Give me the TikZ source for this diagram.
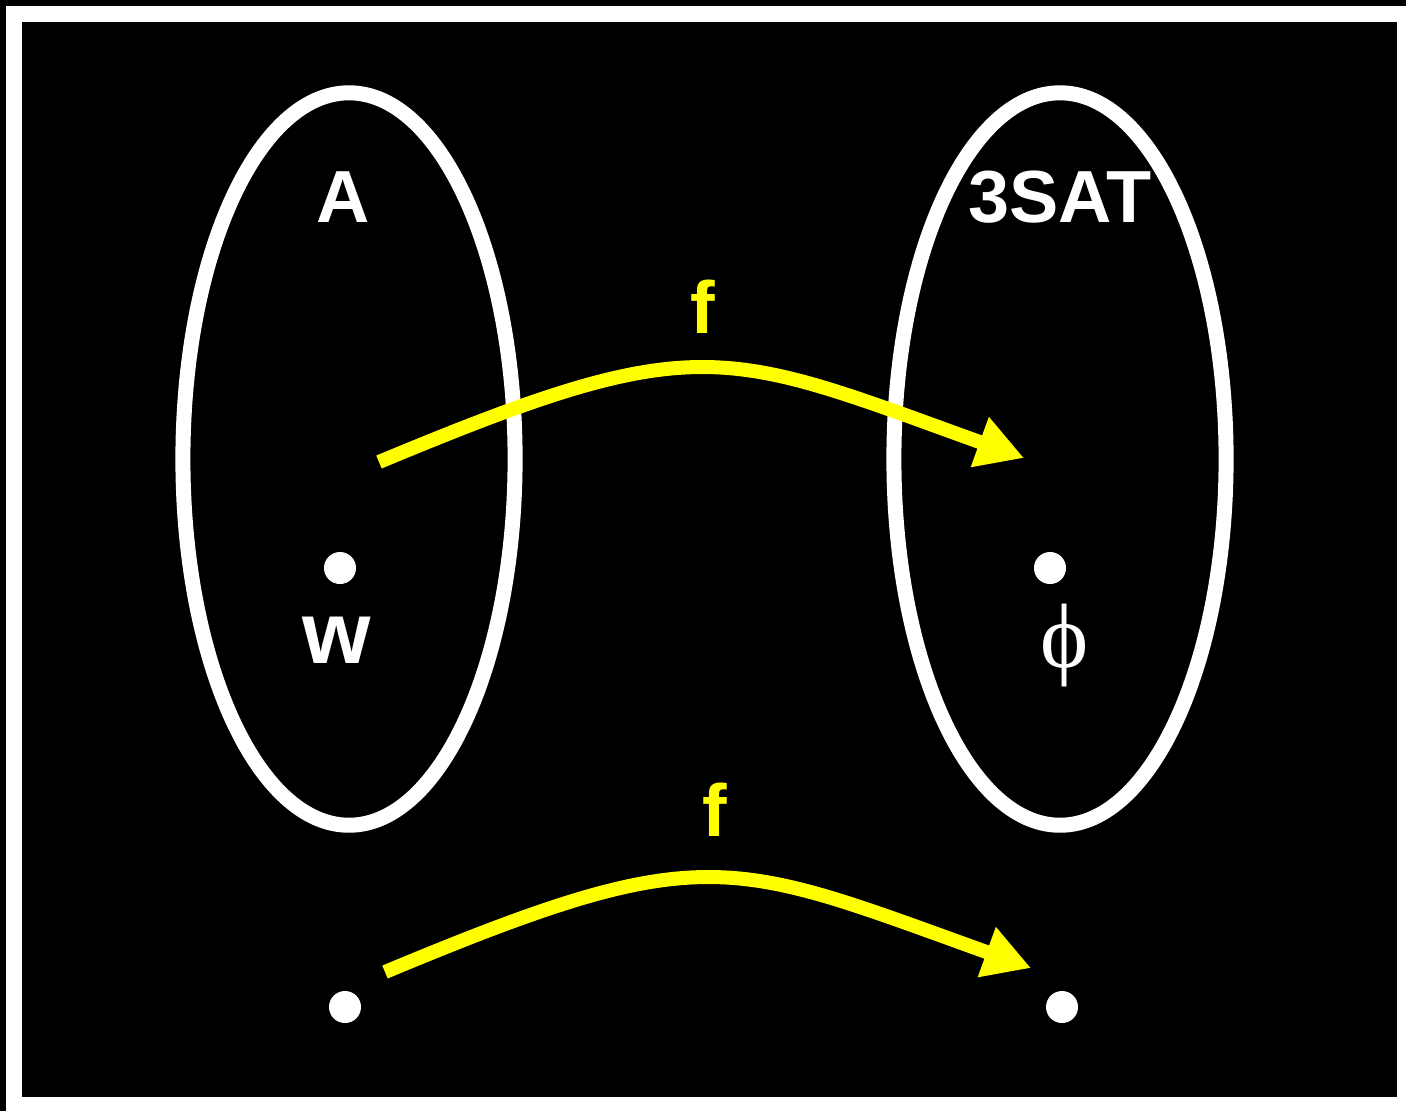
\documentclass[tikz,border=0pt]{standalone}
\usepackage{fontspec}
\setmainfont{Liberation Sans}
\newfontfamily\phifont{Liberation Serif}
\usetikzlibrary{arrows.meta}
\definecolor{arrowyellow}{RGB}{255,255,0}
\begin{document}
\begin{tikzpicture}[x=0.01cm,y=-0.01cm,
  setring/.style={draw=white,line width=0.15cm},
  elemdot/.style={circle,fill=white,inner sep=0pt,minimum size=0.32cm},
  maparrow/.style={draw=arrowyellow,line width=0.14cm,-{Triangle[length=0.47cm,width=0.5cm]}},
  setlabel/.style={text=white,font=\bfseries\fontsize{21}{21}\selectfont,inner sep=0pt,anchor=base},
  maplabel/.style={text=arrowyellow,font=\bfseries\fontsize{21}{21}\selectfont,inner sep=0pt,anchor=base}]
\useasboundingbox (0,0) rectangle (1406,1111);
\fill[white] (0,0) rectangle (1406,1111);
\fill[black] (0,0) rectangle (1406,6);
\fill[black] (0,0) rectangle (6,1111);
\fill[black] (22,22) rectangle (1397,1097);
% sets
\draw[setring] (349,459) ellipse [x radius=1.66cm, y radius=3.66cm];
\draw[setring] (1060,459) ellipse [x radius=1.66cm, y radius=3.66cm];
\node[setlabel] (lA) at (343,222) {A};
\node[setlabel] (l3sat) at (1060,222) {3SAT};
% elements
\node[elemdot] (w) at (340,568) {};
\node[elemdot] (phi) at (1050,568) {};
\node[elemdot] (nw) at (345,1007) {};
\node[elemdot] (nphi) at (1062,1007) {};
\node[text=white,font=\bfseries\fontsize{25}{25}\selectfont,inner sep=0pt,anchor=base] (lw) at (337,663) {w};
\node[text=white,font=\phifont\fontsize{26}{26}\selectfont,inner sep=0pt,anchor=base] (lphi) at (1065,667) {ϕ};
% arrows
\coordinate (fs1) at (379,462);
\coordinate (fe1) at (1024,458);
\coordinate (fs2) at (385,972);
\coordinate (fe2) at (1031,968);
\draw[maparrow] (fs1) .. controls (700,328) and (722,349) .. (fe1);
\draw[maparrow] (fs2) .. controls (706,838) and (728,859) .. (fe2);
\node[maplabel] (f1) at (703,333) {f};
\node[maplabel] (f2) at (715,836) {f};
\end{tikzpicture}
\end{document}
